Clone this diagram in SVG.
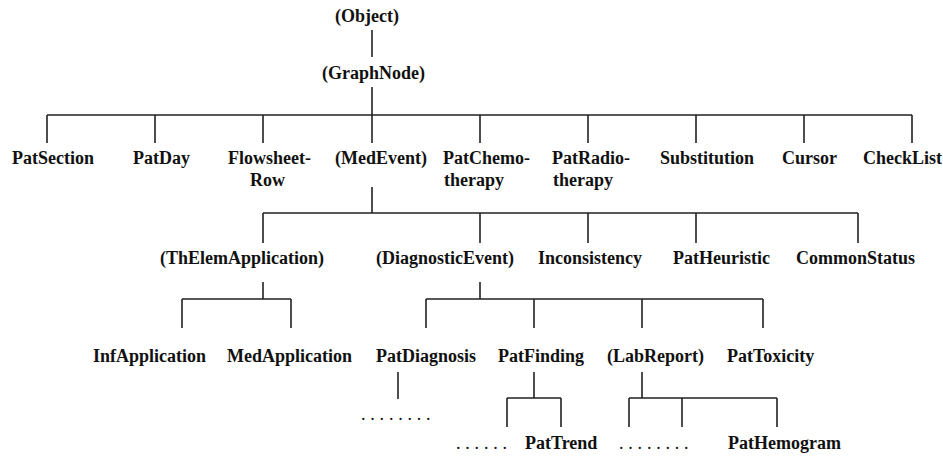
<svg xmlns="http://www.w3.org/2000/svg" width="943" height="456" viewBox="0 0 943 456">
<style>
text{font-family:"Liberation Serif","Times New Roman",serif;font-size:18px;font-weight:bold;fill:#111}
.dots{font-weight:normal;letter-spacing:4.8px}
.c{fill:none;stroke:#222;stroke-width:1.6}
</style>
<rect width="943" height="456" fill="#fff"/>
<g id="connectors">
<path class="c" d="M372 30V57"/>
<path class="c" d="M372 87V115M47 115H912M47 115V143M155 115V143M263 115V143M372 115V143M480 115V143M588 115V143M696 115V143M804 115V143M912 115V143"/>
<path class="c" d="M372 187V213M263 213H858M263 213V243M480 213V243M588 213V243M696 213V243M858 213V243"/>
<path class="c" d="M263 282V299M182 299H291M182 299V328M291 299V328"/>
<path class="c" d="M480 282V299M426 299H763M426 299V328M534 299V328M642 299V328M763 299V328"/>
<path class="c" d="M398 372V399"/>
<path class="c" d="M534 372V398M507 398H561M507 398V427M561 398V427"/>
<path class="c" d="M642 372V398M629 398H777M629 398V427M682 398V427M777 398V427"/>
</g>
<g id="n-object"><text x="335" y="22">(Object)</text></g>
<g id="n-graphnode"><text x="322" y="79">(GraphNode)</text></g>
<g id="n-patsection"><text x="12" y="164">PatSection</text></g>
<g id="n-patday"><text x="133" y="164">PatDay</text></g>
<g id="n-flowsheetrow"><text x="228" y="164">Flowsheet-</text><text x="250" y="186">Row</text></g>
<g id="n-medevent"><text x="335" y="164">(MedEvent)</text></g>
<g id="n-patchemo"><text x="443" y="164">PatChemo-</text><text x="444" y="186">therapy</text></g>
<g id="n-patradio"><text x="552" y="164">PatRadio-</text><text x="553" y="186">therapy</text></g>
<g id="n-substitution"><text x="660" y="164">Substitution</text></g>
<g id="n-cursor"><text x="782" y="164">Cursor</text></g>
<g id="n-checklist"><text x="863" y="164">CheckList</text></g>
<g id="n-thelem"><text x="160" y="264">(ThElemApplication)</text></g>
<g id="n-diagevent"><text x="376" y="264">(DiagnosticEvent)</text></g>
<g id="n-inconsistency"><text x="538" y="264">Inconsistency</text></g>
<g id="n-patheuristic"><text x="673" y="264">PatHeuristic</text></g>
<g id="n-commonstatus"><text x="796" y="264">CommonStatus</text></g>
<g id="n-infapp"><text x="93" y="362">InfApplication</text></g>
<g id="n-medapp"><text x="227" y="362">MedApplication</text></g>
<g id="n-patdiagnosis"><text x="376" y="362">PatDiagnosis</text></g>
<g id="n-patfinding"><text x="498" y="362">PatFinding</text></g>
<g id="n-labreport"><text x="607" y="362">(LabReport)</text></g>
<g id="n-pattoxicity"><text x="727" y="362">PatToxicity</text></g>
<g id="n-dots1"><text class="dots" x="361" y="420">........</text></g>
<g id="n-dots2"><text class="dots" x="456" y="449">......</text></g>
<g id="n-pattrend"><text x="525" y="449">PatTrend</text></g>
<g id="n-dots3"><text class="dots" x="619" y="449">........</text></g>
<g id="n-pathemogram"><text x="728" y="449">PatHemogram</text></g>
</svg>
